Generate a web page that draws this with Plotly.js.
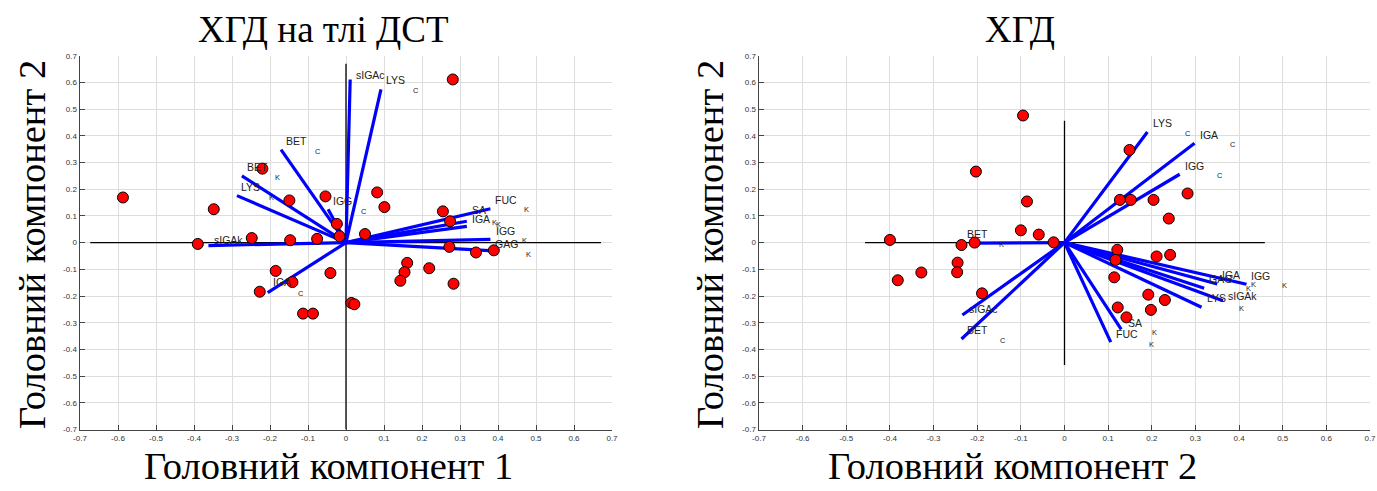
<!DOCTYPE html>
<html>
<head>
<meta charset="utf-8">
<script src="https://cdn.plot.ly/plotly-3.0.1.min.js"></script>
<style>html,body{margin:0;padding:0;background:#fff;}#chart{width:1377px;height:491px;}</style>
</head>
<body>
<div id="chart"></div>
<script>
// ---------- DATA ----------
var tickVals = [-0.7,-0.6,-0.5,-0.4,-0.3,-0.2,-0.1,0,0.1,0.2,0.3,0.4,0.5,0.6,0.7];
var tickText = ["-0.7","-0.6","-0.5","-0.4","-0.3","-0.2","-0.1","0","0.1","0.2","0.3","0.4","0.5","0.6","0.7"];

// Left panel: scores
var leftPointsX = [-0.587,-0.348,-0.390,-0.220,-0.149,-0.054,-0.024,-0.017,-0.248,-0.147,-0.076,0.050,0.082,0.281,0.101,0.255,0.274,0.272,0.342,0.389,-0.185,-0.141,-0.227,-0.041,-0.113,-0.087,0.014,0.022,0.161,0.154,0.143,0.219,0.283];
var leftPointsY = [0.169,0.125,-0.005,0.277,0.158,0.173,0.070,0.024,0.017,0.009,0.014,0.032,0.188,0.611,0.133,0.117,0.080,-0.016,-0.037,-0.029,-0.106,-0.148,-0.184,-0.114,-0.266,-0.266,-0.226,-0.231,-0.076,-0.111,-0.143,-0.096,-0.154];

// Left panel: loadings (vector ends)
var leftVecX = [0.011,0.092,-0.171,-0.274,-0.287,-0.047,-0.362,-0.206,0.380,0.318,0.318,0.380,0.389];
var leftVecY = [0.611,0.574,0.348,0.250,0.176,0.125,-0.011,-0.187,0.127,0.080,0.061,0.012,-0.031];

// Left panel: labels
var leftLabText = ["sIGAc","LYS","BET","BET","LYS","IGG","sIGAk","IGA","FUC","SA","IGA","IGG","GAG"];
var leftLabX = [0.020,0.099,-0.164,-0.265,-0.281,-0.039,-0.353,-0.197,0.387,0.325,0.325,0.389,0.387];
var leftLabY = [0.629,0.608,0.380,0.282,0.207,0.154,0.011,-0.149,0.158,0.121,0.090,0.044,-0.007];
var leftSubText = ["C","C","K","K","C","C","K","K","K","K","K"];
var leftSubX = [0.171,-0.088,-0.191,-0.208,0.033,-0.131,0.463,0.378,0.389,0.457,0.469];
var leftSubY = [0.571,0.342,0.245,0.170,0.117,-0.189,0.125,0.077,0.067,0.009,-0.044];

// Right panel: scores
var rightPointsX = [-0.400,-0.236,-0.206,-0.203,-0.095,-0.086,-0.100,-0.059,-0.025,-0.245,-0.246,-0.328,-0.382,-0.189,0.149,0.127,0.152,0.204,0.282,0.239,0.121,0.117,0.211,0.242,0.114,0.192,0.230,0.198,0.122,0.142];
var rightPointsY = [0.010,-0.009,0.000,0.266,0.476,0.154,0.046,0.030,0.001,-0.075,-0.111,-0.112,-0.141,-0.190,0.347,0.160,0.160,0.160,0.184,0.090,-0.027,-0.065,-0.052,-0.046,-0.130,-0.195,-0.215,-0.252,-0.243,-0.280];

// Right panel: loadings
var rightVecX = [0.190,0.298,0.264,-0.212,-0.234,-0.236,0.130,0.106,0.417,0.350,0.320,0.363,0.314];
var rightVecY = [0.414,0.372,0.256,-0.002,-0.271,-0.361,-0.325,-0.373,-0.156,-0.155,-0.171,-0.218,-0.242];

// Right panel: labels
var rightLabText = ["LYS","IGA","IGG","BET","sIGAc","BET","SA","FUC","GAG","IGA","IGG","LYS","sIGAk"];
var rightLabX = [0.198,0.307,0.272,-0.228,-0.224,-0.228,0.142,0.114,0.327,0.357,0.423,0.323,0.371];
var rightLabY = [0.447,0.402,0.287,0.031,-0.250,-0.327,-0.302,-0.342,-0.137,-0.121,-0.125,-0.208,-0.200];
var rightSubText = ["C","C","C","K","C","K","K","K","K","K","K"];
var rightSubX = [0.272,0.374,0.344,-0.154,-0.152,0.195,0.190,0.411,0.423,0.493,0.396];
var rightSubY = [0.410,0.369,0.250,-0.006,-0.365,-0.336,-0.380,-0.173,-0.158,-0.162,-0.246];

// Reference cross extents
var leftCrossX = [-0.673, 0.671];
var leftCrossY = [-0.70, 0.67];
var rightCrossX = [-0.457, 0.459];
var rightCrossY = [-0.458, 0.456];

// ---------- BUILD ----------
function segs(xs, ys) {
  var sx = [], sy = [];
  for (var i = 0; i < xs.length; i++) { sx.push(0, xs[i], null); sy.push(0, ys[i], null); }
  return {x: sx, y: sy};
}
function cross(cx, cy) {
  return {x: [cx[0], cx[1], null, 0, 0], y: [0, 0, null, cy[0], cy[1]]};
}
var lc = cross(leftCrossX, leftCrossY), rc = cross(rightCrossX, rightCrossY);
var lv = segs(leftVecX, leftVecY), rv = segs(rightVecX, rightVecY);

var marker = {color: '#ff0000', size: 11, line: {color: '#000', width: 1}};
var traces = [
  {x: lc.x, y: lc.y, mode: 'lines', line: {color: '#000', width: 1.3}, xaxis: 'x', yaxis: 'y', hoverinfo: 'skip'},
  {x: rc.x, y: rc.y, mode: 'lines', line: {color: '#000', width: 1.3}, xaxis: 'x2', yaxis: 'y2', hoverinfo: 'skip'},
  {x: lv.x, y: lv.y, mode: 'lines', line: {color: '#0000ff', width: 3.2}, xaxis: 'x', yaxis: 'y'},
  {x: rv.x, y: rv.y, mode: 'lines', line: {color: '#0000ff', width: 3.2}, xaxis: 'x2', yaxis: 'y2'},
  {x: leftPointsX, y: leftPointsY, mode: 'markers', marker: marker, xaxis: 'x', yaxis: 'y'},
  {x: rightPointsX, y: rightPointsY, mode: 'markers', marker: marker, xaxis: 'x2', yaxis: 'y2'}
];

var annots = [];
function addLabels(texts, xs, ys, xr, yr, size) {
  for (var i = 0; i < texts.length; i++) {
    annots.push({text: texts[i], x: xs[i], y: ys[i], xref: xr, yref: yr, showarrow: false,
      xanchor: 'left', yanchor: 'middle', font: {family: 'Liberation Sans, Arial', size: size, color: '#222'}});
  }
}
addLabels(leftLabText, leftLabX, leftLabY, 'x', 'y', 10.5);
addLabels(leftSubText, leftSubX, leftSubY, 'x', 'y', 7.5);
addLabels(rightLabText, rightLabX, rightLabY, 'x2', 'y2', 10.5);
addLabels(rightSubText, rightSubX, rightSubY, 'x2', 'y2', 7.5);

var W = 1377, H = 491;
var serif = {family: 'Liberation Serif, Times New Roman, serif', size: 37, color: '#000'};
var serifBig = {family: 'Liberation Serif, Times New Roman, serif', size: 38.5, color: '#000'};
function paperText(t, px, py, rot, f) {
  annots.push({text: t, x: px / W, y: 1 - py / H, xref: 'paper', yref: 'paper', showarrow: false,
    xanchor: 'center', yanchor: 'middle', textangle: rot || 0, font: f || serif});
}
paperText('ХГД на тлі ДСТ', 323, 30);
paperText('ХГД', 1020, 30);
paperText('Головний компонент 1', 328, 466, 0, serifBig);
paperText('Головний компонент 2', 1012, 466, 0, serifBig);
paperText('Головний компонент 2', 32, 245, -90, serifBig);
paperText('Головний компонент 2', 710, 245, -90, serifBig);

function axis(domain, anchor) {
  return {domain: domain, anchor: anchor, range: [-0.7, 0.7], tickmode: 'array', tickvals: tickVals, ticktext: tickText,
    showgrid: true, gridcolor: '#dddddd', gridwidth: 1, zeroline: false, showline: true, linecolor: '#444', linewidth: 1.5,
    ticks: 'inside', ticklen: 5, tickcolor: '#444', tickwidth: 1,
    tickfont: {family: 'Liberation Sans, Arial', size: 8, color: '#333'}, fixedrange: true};
}
var yDom = [1 - 429.5 / H, 1 - 55.7 / H];
var layout = {
  width: W, height: H, margin: {l: 0, r: 0, t: 0, b: 0}, showlegend: false,
  paper_bgcolor: '#fff', plot_bgcolor: '#fff',
  xaxis: axis([80 / W, 612 / W], 'y'),
  yaxis: axis(yDom, 'x'),
  xaxis2: axis([759 / W, 1370 / W], 'y2'),
  yaxis2: axis(yDom, 'x2'),
  annotations: annots
};
Plotly.newPlot('chart', traces, layout, {displayModeBar: false, staticPlot: true});
</script>
</body>
</html>
